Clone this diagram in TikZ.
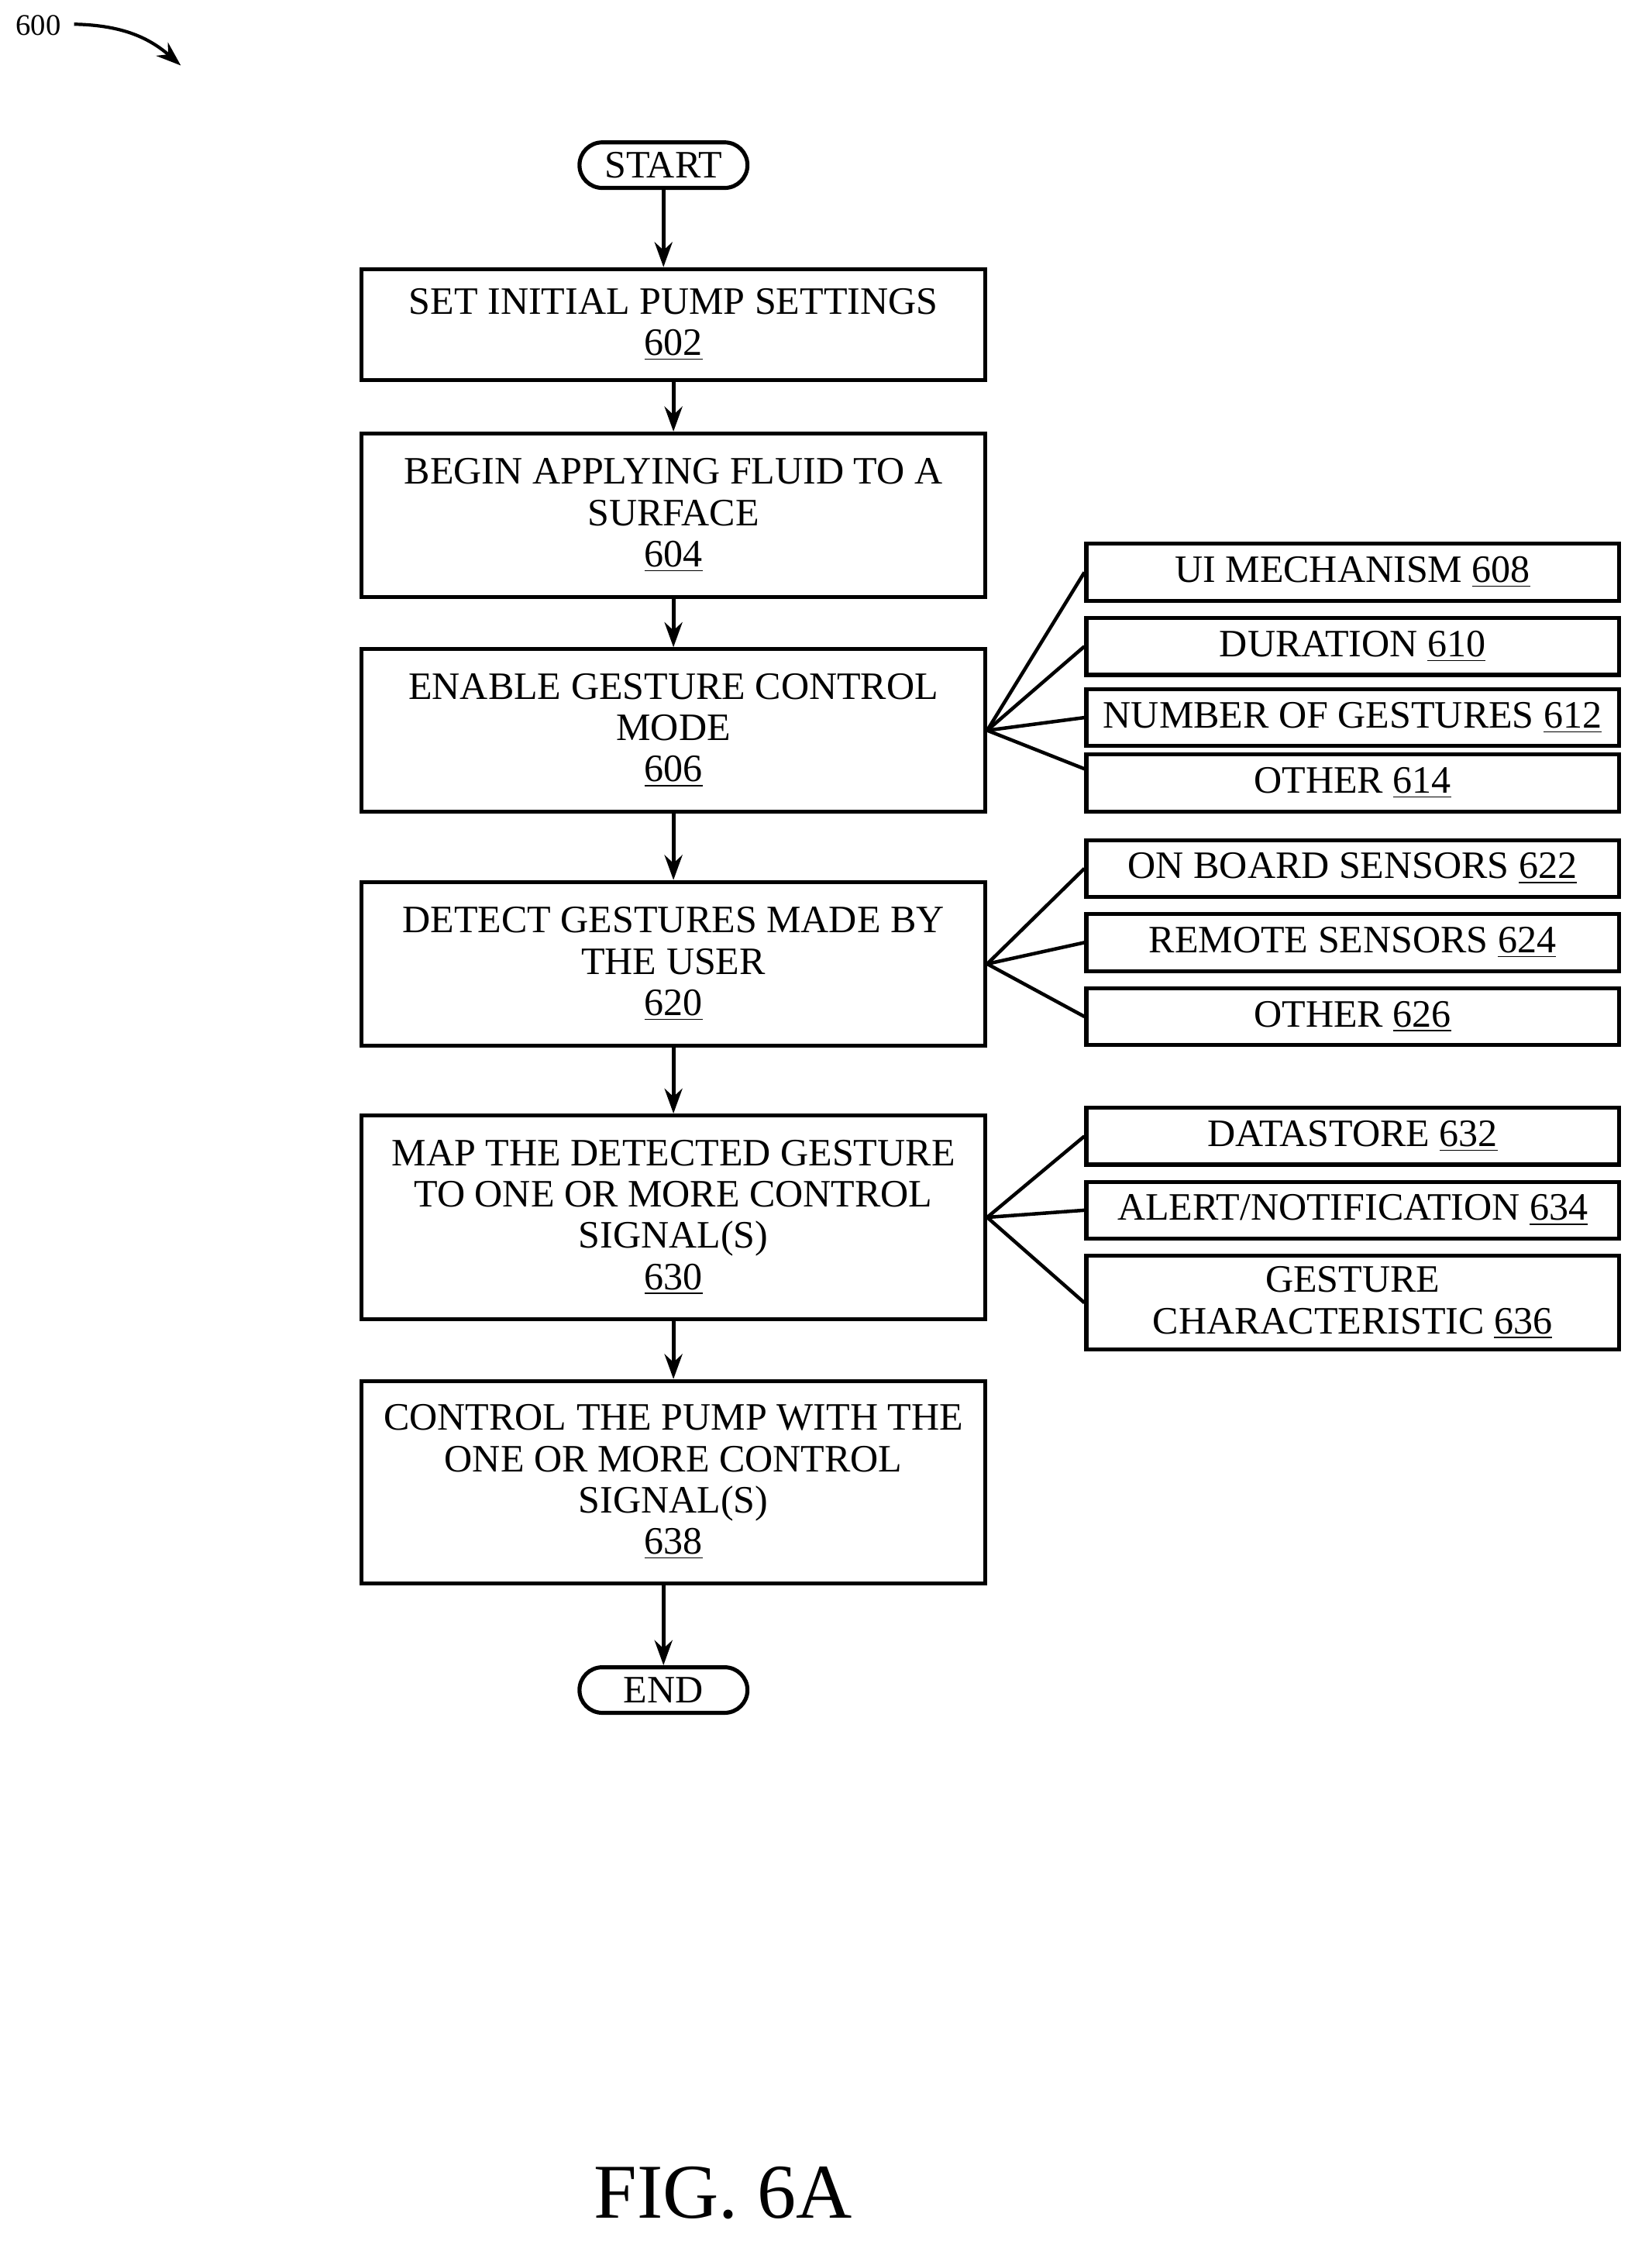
\documentclass[tikz,border=0pt]{standalone}
\usepackage{fontspec}
\setmainfont{Liberation Serif}
\usetikzlibrary{positioning,arrows.meta,shapes.misc}
\tikzset{
  stepbox/.style={draw, line width=1.6pt, minimum width=8.76cm, align=center, inner sep=0pt},
  opt/.style={draw, line width=1.6pt, minimum width=7.48cm, minimum height=0.8cm, align=center, inner sep=0pt},
  term/.style={draw, rounded rectangle, line width=1.6pt, minimum width=2.36cm, minimum height=0.64cm, inner sep=0pt},
  flow/.style={-{Stealth[length=0.35cm,width=0.25cm]}, line width=1.6pt},
  link/.style={line width=1.4pt}
}
\newcommand{\refnum}[1]{\underline{#1}}
\begin{document}
\begin{tikzpicture}[x=0.02cm,y=-0.02cm,font=\fontsize{15.5}{16.5}\selectfont]
\useasboundingbox (0,0) rectangle (1160,1581);
\node at (27,18) {\fontsize{12}{14}\selectfont 600};
\coordinate (a0) at (52,17);
\coordinate (a1) at (127,46);
\draw[flow, line width=1.3pt] (a0) to[bend left=20] (a1);

\node[term] (start) at (466,116) {START};
\node[stepbox, minimum height=1.56cm] (s602) at (473,228) {SET INITIAL PUMP SETTINGS\\\refnum{602}};
\node[stepbox, minimum height=2.3cm] (s604) at (473,362) {BEGIN APPLYING FLUID TO A\\SURFACE\\\refnum{604}};
\node[stepbox, minimum height=2.28cm] (s606) at (473,513) {ENABLE GESTURE CONTROL\\MODE\\\refnum{606}};
\node[stepbox, minimum height=2.3cm] (s620) at (473,677) {DETECT GESTURES MADE BY\\THE USER\\\refnum{620}};
\node[stepbox, minimum height=2.86cm] (s630) at (473,855) {MAP THE DETECTED GESTURE\\TO ONE OR MORE CONTROL\\SIGNAL(S)\\\refnum{630}};
\node[stepbox, minimum height=2.84cm] (s638) at (473,1041) {CONTROL THE PUMP WITH THE\\ONE OR MORE CONTROL\\SIGNAL(S)\\\refnum{638}};
\node[term] (end) at (466,1187) {END};

\node[opt] (o608) at (950,402) {UI MECHANISM \refnum{608}};
\node[opt] (o610) at (950,454) {DURATION \refnum{610}};
\node[opt] (o612) at (950,504) {NUMBER OF GESTURES \refnum{612}};
\node[opt] (o614) at (950,550) {OTHER \refnum{614}};
\node[opt] (o622) at (950,610) {ON BOARD SENSORS \refnum{622}};
\node[opt] (o624) at (950,662) {REMOTE SENSORS \refnum{624}};
\node[opt] (o626) at (950,714) {OTHER \refnum{626}};
\node[opt] (o632) at (950,798) {DATASTORE \refnum{632}};
\node[opt] (o634) at (950,850) {ALERT/NOTIFICATION \refnum{634}};
\node[opt, minimum height=1.32cm] (o636) at (950,915) {GESTURE\\CHARACTERISTIC \refnum{636}};

\node[font=\fontsize{31}{33}\selectfont] (fig) at (508,1540) {FIG. 6A};

\draw[flow] (start.south) -- (start.south |- s602.north);
\draw[flow] (s602) -- (s604);
\draw[flow] (s604) -- (s606);
\draw[flow] (s606) -- (s620);
\draw[flow] (s620) -- (s630);
\draw[flow] (s630) -- (s638);
\draw[flow] (end.north |- s638.south) -- (end.north);

\foreach \o in {o608,o610,o612} \draw[link] (s606.east) -- (\o.west);
\draw[link] (s606.east) -- ([yshift=0.2cm]o614.west);
\foreach \o in {o622,o624,o626} \draw[link] (s620.east) -- (\o.west);
\foreach \o in {o632,o634,o636} \draw[link] (s630.east) -- (\o.west);
\end{tikzpicture}
\end{document}
